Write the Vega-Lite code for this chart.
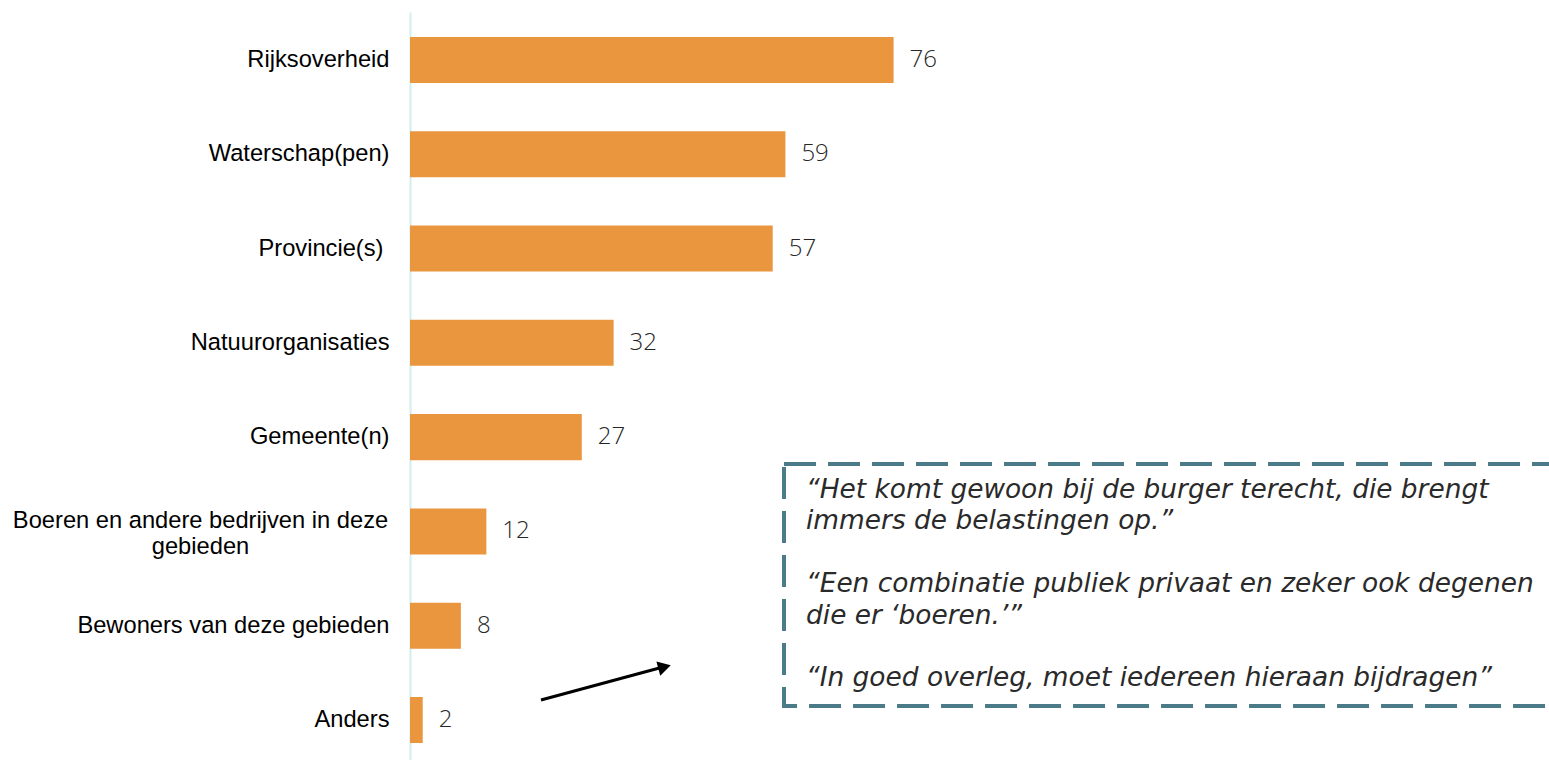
{
  "$schema": "https://vega.github.io/schema/vega-lite/v6.json",
  "width": 1139,
  "height": 748,
  "autosize": {"type": "none"},
  "padding": {"left": 410, "top": 12, "right": 0, "bottom": 0},
  "background": "white",
  "config": {"view": {"stroke": null}},
  "datasets": {
    "bars": [
      {"category": "Rijksoverheid", "value": 76},
      {"category": "Waterschap(pen)", "value": 59},
      {"category": "Provincie(s)", "value": 57},
      {"category": "Natuurorganisaties", "value": 32},
      {"category": "Gemeente(n)", "value": 27},
      {"category": "Boeren en andere bedrijven in deze gebieden", "value": 12},
      {"category": "Bewoners van deze gebieden", "value": 8},
      {"category": "Anders", "value": 2}
    ],
    "box": [{"x": 58.78, "x2": 186, "y": 4.284, "y2": 6.85}],
    "arrow": [{"x": 20.59, "x2": 39.2, "y": 6.787, "y2": 6.447}],
    "head": [{"x": 40.0, "y": 6.436}],
    "quote": [
      {"x": 62.24, "y": 4.645, "lines": ["\u201cHet komt gewoon bij de burger terecht, die brengt", "immers de belastingen op.\u201d"]},
      {"x": 62.24, "y": 5.644, "lines": ["\u201cEen combinatie publiek privaat en zeker ook degenen", "die er \u2018boeren.\u2019\u201d"]},
      {"x": 62.24, "y": 6.643, "lines": ["\u201cIn goed overleg, moet iedereen hieraan bijdragen\u201d"]}
    ]
  },
  "layer": [
    {
      "data": {"name": "bars"},
      "encoding": {
        "y": {
          "field": "category",
          "type": "nominal",
          "sort": null,
          "scale": {"paddingInner": 0.512, "paddingOuter": 0.222, "align": 0.595},
          "axis": {
            "title": null,
            "ticks": false,
            "domainColor": "#D3EEF1",
            "domainWidth": 2,
            "labelFont": "Liberation Sans",
            "labelFontSize": 23.7,
            "labelColor": "#000000",
            "labelLimit": 500,
            "labelLineHeight": 26,
            "labelExpr": "datum.label == 'Boeren en andere bedrijven in deze gebieden' ? ['Boeren en andere bedrijven in deze', 'gebieden'] : datum.label",
            "labelAlign": {"condition": {"test": "datum.value == 'Boeren en andere bedrijven in deze gebieden'", "value": "center"}, "value": "right"},
            "labelPadding": {"condition": [
              {"test": "datum.value == 'Boeren en andere bedrijven in deze gebieden'", "value": 210},
              {"test": "datum.value == 'Provincie(s)'", "value": 27}
            ], "value": 21},
            "labelOffset": {"condition": {"test": "datum.value == 'Boeren en andere bedrijven in deze gebieden'", "value": -10}, "value": 0}
          }
        },
        "x": {
          "field": "value",
          "type": "quantitative",
          "scale": {"domain": [0, 179], "nice": false},
          "axis": null
        }
      },
      "layer": [
        {"mark": {"type": "bar", "color": "#EA963F"}},
        {
          "mark": {"type": "text", "align": "left", "baseline": "middle", "dx": 16, "font": "Open Sans", "fontWeight": 300, "fontSize": 24, "color": "#262626"},
          "encoding": {"text": {"field": "value", "type": "quantitative"}}
        }
      ]
    },
    {
      "encoding": {
        "y": {"type": "quantitative", "scale": {"domain": [-0.509, 7.423], "reverse": true, "nice": false, "zero": false}, "axis": null}
      },
      "layer": [
        {
          "data": {"name": "box"},
          "mark": {"type": "rect", "fill": "transparent", "stroke": "#4B7B88", "strokeWidth": 4, "strokeDash": [32, 12], "clip": false},
          "encoding": {
            "x": {"field": "x", "type": "quantitative", "scale": {"domain": [0, 179], "nice": false}, "axis": null},
            "x2": {"field": "x2"},
            "y": {"field": "y", "type": "quantitative", "scale": {"domain": [-0.509, 7.423], "reverse": true, "nice": false, "zero": false}, "axis": null},
            "y2": {"field": "y2"}
          }
        },
        {
          "data": {"name": "arrow"},
          "mark": {"type": "rule", "color": "#000000", "strokeWidth": 3},
          "encoding": {
            "x": {"field": "x", "type": "quantitative"},
            "x2": {"field": "x2"},
            "y": {"field": "y", "type": "quantitative"},
            "y2": {"field": "y2"}
          }
        },
        {
          "data": {"name": "head"},
          "mark": {"type": "point", "shape": "triangle-right", "filled": true, "color": "#000000", "opacity": 1, "size": 220, "angle": -15},
          "encoding": {
            "x": {"field": "x", "type": "quantitative"},
            "y": {"field": "y", "type": "quantitative"}
          }
        },
        {
          "data": {"name": "quote"},
          "mark": {"type": "text", "align": "left", "baseline": "alphabetic", "font": "DejaVu Sans", "fontWeight": 200, "fontStyle": "italic", "fontSize": 26.4, "lineHeight": 31.4, "color": "#2A2A2A"},
          "encoding": {
            "x": {"field": "x", "type": "quantitative"},
            "y": {"field": "y", "type": "quantitative"},
            "text": {"field": "lines"}
          }
        }
      ]
    }
  ],
  "resolve": {"scale": {"y": "independent"}, "axis": {"y": "independent"}}
}
